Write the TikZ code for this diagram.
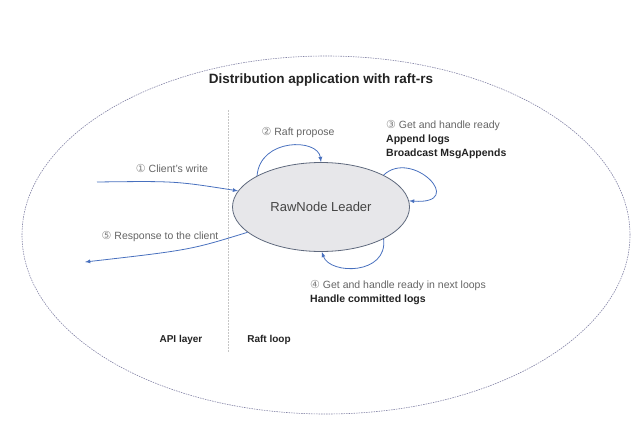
\documentclass[tikz,border=0pt]{standalone}
\usepackage{fontspec}
\setmainfont{Liberation Sans}
\newfontfamily\circfont{DejaVu Sans}
\usetikzlibrary{shapes.geometric}
\definecolor{arrowblue}{RGB}{72,112,190}
\definecolor{nodefill}{RGB}{231,231,234}
\definecolor{nodeline}{RGB}{95,105,125}
\definecolor{labelgray}{RGB}{100,100,100}
\definecolor{darktext}{RGB}{35,35,35}
\definecolor{dashgray}{RGB}{130,130,165}
\newcommand{\cnum}[1]{{\circfont\fontsize{11}{12}\selectfont\color{labelgray!80}#1}}
\tikzset{
  flow/.style={-latex, arrowblue, line width=0.8pt},
  lbl/.style={labelgray, font=\fontsize{10.5}{12}\selectfont, inner sep=0pt},
  steplbl/.style={labelgray, font=\fontsize{10.5}{14}\selectfont, inner sep=0pt, align=left, anchor=north west},
}
\begin{document}
\begin{tikzpicture}[x=1pt,y=-1pt]
  \useasboundingbox (0,0) rectangle (643,431);
  % outer application boundary
  \node[ellipse, draw=dashgray, dash pattern=on 1.5pt off 1pt, line width=0.6pt,
        minimum width=608pt, minimum height=358pt] (app) at (326,235) {};
  \node[darktext, font=\fontsize{13.5}{15}\selectfont\bfseries] (title) at (321,80) {Distribution application with raft-rs};
  % layer divider
  \coordinate (divtop) at (228,110);
  \coordinate (divbot) at (228,352);
  \draw[gray!45, dash pattern=on 1.5pt off 1.5pt] (divtop) -- (divbot);
  \node[darktext, font=\fontsize{10}{12}\selectfont\bfseries] (api) at (181,340) {API layer};
  \node[darktext, font=\fontsize{10}{12}\selectfont\bfseries] (loop) at (269,340) {Raft loop};
  % leader
  \node[ellipse, draw=nodeline, fill=nodefill, line width=0.8pt, minimum width=177pt,
        minimum height=89pt, font=\fontsize{13}{15}\selectfont, text=darktext!85] (leader) at (321,207) {RawNode Leader};
  % client side
  \coordinate (client) at (97,182);
  \coordinate (reply) at (85,262);
  \draw[flow] (client) .. controls (175,181) .. (leader.169);
  \node[lbl] (write) at (172,168) {\cnum{①} Client’s write};
  \draw[flow] (leader.199) .. controls (190,250) .. (reply);
  \node[lbl] (resp) at (160,237) {\cnum{⑤} Response to the client};
  % raft loops
  \draw[flow] (leader.154) .. controls (260,138) and (318,138) .. (leader.90);
  \node[lbl] (propose) at (298,133) {\cnum{②} Raft propose};
  \draw[flow] (leader.27) .. controls (412,148) and (468,205) .. (leader.4);
  \node[steplbl] (ready) at (386,120) {\cnum{③} Get and handle ready\\
    \textcolor{darktext}{\bfseries Append logs}\\
    \textcolor{darktext}{\bfseries Broadcast MsgAppends}};
  \draw[flow] (leader.-27) .. controls (388,275) and (330,275) .. (leader.-89);
  \node[steplbl] (next) at (310,280) {\cnum{④} Get and handle ready in next loops\\
    \textcolor{darktext}{\bfseries Handle committed logs}};
\end{tikzpicture}
\end{document}
